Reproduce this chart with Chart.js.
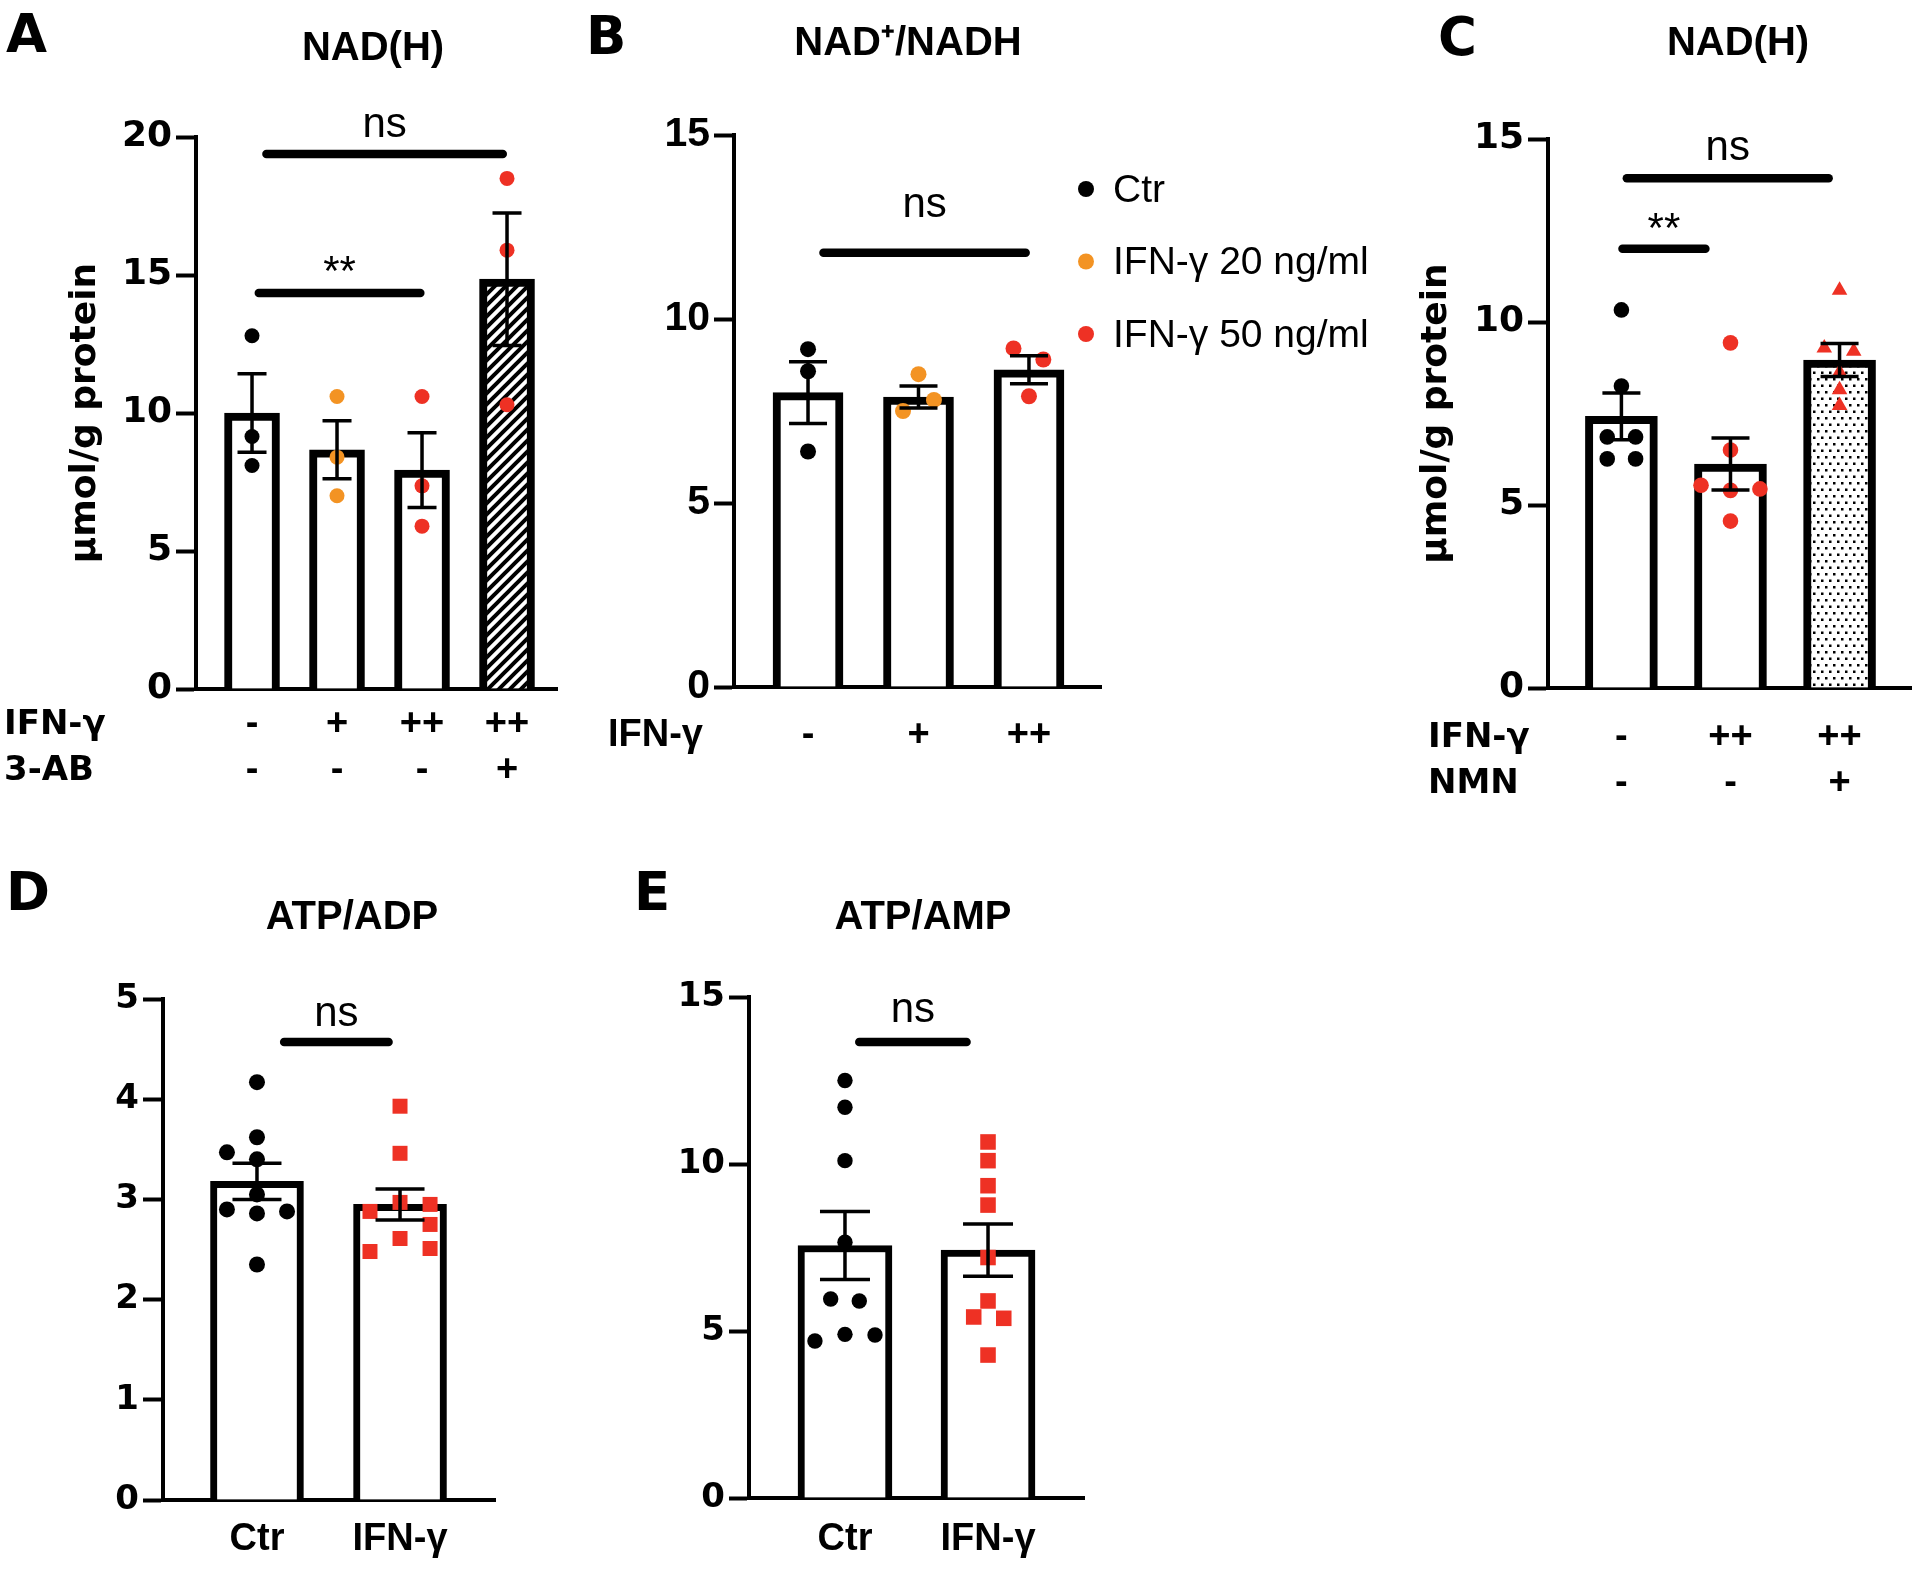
<!DOCTYPE html>
<html>
<head>
<meta charset="utf-8">
<script src="https://cdn.jsdelivr.net/npm/chart.js@4.4.0/dist/chart.umd.min.js"></script>
<style>
  html, body { margin: 0; padding: 0; background: #fff; }
  body { width: 1920px; height: 1571px; position: relative; overflow: hidden; }
  canvas { position: absolute; }
</style>
</head>
<body>
<canvas id="chartA" width="575" height="800" style="left:0;top:0"></canvas>
<canvas id="chartB" width="820" height="800" style="left:580px;top:0"></canvas>
<canvas id="chartC" width="520" height="820" style="left:1400px;top:0"></canvas>
<canvas id="chartD" width="560" height="721" style="left:0;top:850px"></canvas>
<canvas id="chartE" width="560" height="721" style="left:600px;top:850px"></canvas>
<script>
// ===== DATA =====

// A — NAD(H), IFN-γ / 3-AB
const aIfn = ["-", "+", "++", "++"];
const a3ab = ["-", "-", "-", "+"];
const aMean = [10.0, 8.67, 7.93, 14.85];
const aSem = [1.42, 1.05, 1.35, 2.4];
const aPoints = [[12.8, 9.15, 8.1], [10.6, 8.4, 7.0], [10.6, 7.36, 5.9], [18.5, 15.9, 10.3]];
const aJitter = [[0, 0, 0], [0, 0, 0], [0, 0, 0], [0, 0, 0]];
const aBracketFrom = [0.17, 0.08];
const aBracketTo = [2.95, 1.98];
const aBracketY = [19.38, 14.35];
const aBracketText = ["ns", "**"];

// B — NAD+/NADH
const bIfn = ["-", "+", "++"];
const bMean = [8.0, 7.88, 8.62];
const bSem = [0.84, 0.3, 0.38];
const bPoints = [[9.18, 8.58, 6.4], [8.5, 7.8, 7.5], [9.2, 8.9, 7.9]];
const bJitter = [[0, 0, 0], [0, 0.14, -0.14], [-0.14, 0.13, 0]];
const bBracketFrom = [0.14];
const bBracketTo = [1.97];
const bBracketY = [11.8];
const bBracketText = ["ns"];
const bLegend = ["Ctr", "IFN-γ 20 ng/ml", "IFN-γ 50 ng/ml"];

// C — NAD(H), IFN-γ / NMN
const cIfn = ["-", "++", "++"];
const cNmn = ["-", "-", "+"];
const cMean = [7.42, 6.12, 8.96];
const cSem = [0.64, 0.71, 0.45];
const cPoints = [
  [10.33, 8.25, 6.86, 6.86, 6.26, 6.26],
  [9.43, 6.5, 5.54, 5.4, 5.44, 4.56],
  [10.87, 9.29, 9.2, 8.63, 8.15, 7.72]
];
const cJitter = [
  [0, 0, -0.13, 0.13, -0.13, 0.13],
  [0, 0, -0.27, 0, 0.27, 0],
  [0, -0.14, 0.13, 0, 0, 0]
];
const cBracketFrom = [0.05, 0.01];
const cBracketTo = [1.9, 0.77];
const cBracketY = [13.93, 12.0];
const cBracketText = ["ns", "**"];

// D — ATP/ADP
const dGroups = ["Ctr", "IFN-γ"];
const dMean = [3.18, 2.95];
const dSem = [0.18, 0.155];
const dPoints = [
  [4.17, 3.62, 3.47, 3.4, 3.05, 2.9, 2.86, 2.88, 2.35],
  [3.93, 3.46, 2.97, 2.95, 2.88, 2.75, 2.61, 2.51, 2.48]
];
const dJitter = [
  [0, 0, -0.21, 0, 0, -0.21, 0, 0.21, 0],
  [0, 0, 0, 0.21, -0.21, 0.21, 0, 0.21, -0.21]
];
const dBracketFrom = [0.19];
const dBracketTo = [0.92];
const dBracketY = [4.57];
const dBracketText = ["ns"];

// E — ATP/AMP
const eGroups = ["Ctr", "IFN-γ"];
const eMean = [7.56, 7.42];
const eSem = [1.02, 0.78];
const ePoints = [
  [12.5, 11.7, 10.1, 7.66, 5.96, 5.9, 4.9, 4.88, 4.7],
  [10.66, 10.1, 9.35, 8.77, 7.2, 5.9, 5.42, 5.38, 4.28]
];
const eJitter = [
  [0, 0, 0, 0, -0.1, 0.1, 0, 0.21, -0.21],
  [0, 0, 0, 0, 0, 0, -0.1, 0.11, 0]
];
const eBracketFrom = [0.1];
const eBracketTo = [0.85];
const eBracketY = [13.65];
const eBracketText = ["ns"];

// ===== STYLE =====

const BLACK = "#000000";
const ORANGE = "#f39323";
const RED = "#ee3124";
const LIB = "'Liberation Sans', Arial, sans-serif";
const DJV = "'DejaVu Sans', sans-serif";

Chart.defaults.color = BLACK;
Chart.defaults.animation = false;

function hatchPattern(ctx) {
  const c = document.createElement("canvas");
  c.width = 11; c.height = 11;
  const g = c.getContext("2d");
  g.fillStyle = "#fff";
  g.fillRect(0, 0, 11, 11);
  g.strokeStyle = BLACK;
  g.lineWidth = 4;
  g.beginPath();
  g.moveTo(-3, 14); g.lineTo(14, -3);
  g.moveTo(-8.5, 8.5); g.lineTo(8.5, -8.5);
  g.moveTo(2.5, 19.5); g.lineTo(19.5, 2.5);
  g.stroke();
  return ctx.createPattern(c, "repeat");
}

function dotPattern(ctx) {
  const c = document.createElement("canvas");
  c.width = 8; c.height = 13;
  const g = c.getContext("2d");
  g.fillStyle = "#fff";
  g.fillRect(0, 0, 8, 13);
  g.fillStyle = BLACK;
  g.fillRect(1, 1, 2.5, 2.5);
  g.fillRect(5, 7.5, 2.5, 2.5);
  return ctx.createPattern(c, "repeat");
}

//
// ===== DECORATION PLUGIN (error bars, brackets, titles, row headers, legend) =====
//

function decor(cfg) {
  return {
    id: "decor",
    afterDatasetsDraw(chart) {
      const { ctx, scales: { x, y } } = chart;
      ctx.save();
      ctx.strokeStyle = BLACK;
      ctx.lineWidth = 3.5;
      cfg.mean.forEach((m, i) => {
        const px = x.getPixelForValue(i);
        const top = y.getPixelForValue(m + cfg.sem[i]);
        const bot = y.getPixelForValue(m - cfg.sem[i]);
        ctx.beginPath();
        ctx.moveTo(px, top); ctx.lineTo(px, bot);
        ctx.moveTo(px - cfg.cap, top); ctx.lineTo(px + cfg.cap, top);
        ctx.moveTo(px - cfg.cap, bot); ctx.lineTo(px + cfg.cap, bot);
        ctx.stroke();
      });

      ctx.lineCap = "round";
      ctx.lineWidth = 8.5;
      ctx.fillStyle = BLACK;
      ctx.textAlign = "center";
      ctx.textBaseline = "alphabetic";
      cfg.bFrom.forEach((f, k) => {
        const x1 = x.getPixelForValue(f);
        const x2 = x.getPixelForValue(cfg.bTo[k]);
        const py = y.getPixelForValue(cfg.bY[k]);
        ctx.beginPath();
        ctx.moveTo(x1, py); ctx.lineTo(x2, py);
        ctx.stroke();
        ctx.font = "42px " + LIB;
        ctx.fillText(cfg.bText[k], (x1 + x2) / 2, py - cfg.gap[k]);
      });
      ctx.restore();
    },
    afterDraw(chart) {
      const { ctx, scales: { x } } = chart;
      ctx.save();
      ctx.fillStyle = BLACK;
      ctx.textBaseline = "alphabetic";
      ctx.textAlign = "left";
      ctx.font = "bold 53px " + DJV;
      ctx.fillText(cfg.letter, cfg.letterX, cfg.letterY);
      ctx.textAlign = "center";
      ctx.font = "bold 40px " + LIB;
      ctx.fillText(cfg.title, cfg.titleX, cfg.titleY);

      if (cfg.rows) {
        ctx.textAlign = "left";
        ctx.textBaseline = "middle";
        ctx.font = cfg.rowFont;
        cfg.rows.forEach((t, i) => {
          ctx.fillText(t, cfg.rowX, x.top + cfg.tickPad + cfg.lineH * (i + 0.5));
        });
      }

      if (cfg.legend) {
        const L = cfg.legend;
        ctx.textAlign = "left";
        ctx.textBaseline = "middle";
        ctx.font = "39px " + LIB;
        L.labels.forEach((t, i) => {
          const ly = L.y + i * L.step;
          ctx.fillStyle = L.colors[i];
          ctx.beginPath();
          ctx.arc(L.x, ly, 8, 0, Math.PI * 2);
          ctx.fill();
          ctx.fillStyle = BLACK;
          ctx.fillText(t, L.x + 27, ly + 2);
        });
      }
      ctx.restore();
    }
  };
}

//
// ===== SCALES AND DATASETS =====
//

function xScale(min, max, labels, pad, height) {
  return {
    type: "linear",
    min, max,
    offset: false,
    afterBuildTicks: (s) => { s.ticks = labels.map((_, i) => ({ value: i })); },
    afterFit: (s) => { s.height = height; },
    ticks: {
      autoSkip: false,
      maxRotation: 0,
      padding: pad,
      color: BLACK,
      font: { family: LIB, size: 38, weight: "bold", lineHeight: 46 / 38 },
      callback: (v) => labels[v]
    },
    grid: { display: true, drawOnChartArea: false, drawTicks: false, color: BLACK },
    border: { display: true, width: 4, color: BLACK }
  };
}

function yScale(max, step, width, font, titlePad) {
  const s = {
    min: 0, max,
    afterFit: (sc) => { sc.width = width; },
    ticks: { stepSize: step, padding: 4, color: BLACK, font },
    grid: { display: true, drawOnChartArea: false, tickLength: 20, tickWidth: 4, color: BLACK },
    border: { display: true, width: 4, color: BLACK },
    title: { display: false }
  };
  if (titlePad !== undefined) {
    s.title = {
      display: true,
      text: "µmol/g protein",
      color: BLACK,
      padding: { top: titlePad, bottom: 0 },
      font: { family: DJV, size: 36, weight: "bold", lineHeight: 1.2 }
    };
  }
  return s;
}

function barSet(means, fills, thickness, border) {
  return {
    type: "bar",
    data: means.map((v, i) => ({ x: i, y: v })),
    backgroundColor: fills,
    borderColor: BLACK,
    borderWidth: border,
    borderSkipped: "start",
    barThickness: thickness,
    order: 2
  };
}

function pointSets(points, jitter, colors, styles, radii) {
  return points.map((vals, i) => ({
    type: "scatter",
    data: vals.map((v, k) => ({ x: i + jitter[i][k], y: v })),
    backgroundColor: colors[i],
    borderWidth: 0,
    pointStyle: styles[i],
    pointRadius: radii[i],
    order: 1
  }));
}

function makeChart(id, datasets, scales, padding, plugin) {
  return new Chart(document.getElementById(id), {
    type: "bar",
    data: { datasets },
    options: {
      responsive: false,
      devicePixelRatio: 1,
      animation: false,
      events: [],
      layout: { padding },
      plugins: { legend: { display: false }, tooltip: { enabled: false } },
      scales
    },
    plugins: [plugin]
  });
}

//
// ===== PANEL A =====
//

const ctxA = document.getElementById("chartA").getContext("2d");
makeChart("chartA",
  [
    barSet(aMean, ["#fff", "#fff", "#fff", hatchPattern(ctxA)], 55, 8),
    ...pointSets(aPoints, aJitter, [BLACK, ORANGE, RED, RED],
      ["circle", "circle", "circle", "circle"], [7.5, 7.5, 7.5, 7.5])
  ],
  {
    x: xScale(-0.659, 3.588, aIfn.map((v, i) => [v, a3ab[i]]), 13, 111),
    y: yScale(20, 5, 196, { family: DJV, size: 36, weight: "bold" }, 64.4)
  },
  { left: 0, top: 137, right: 18, bottom: 0 },
  decor({
    mean: aMean, sem: aSem, cap: 14.5,
    bFrom: aBracketFrom, bTo: aBracketTo, bY: aBracketY, bText: aBracketText, gap: [17, 8],
    letter: "A", letterX: 6, letterY: 52,
    title: "NAD(H)", titleX: 373, titleY: 60,
    rows: ["IFN-γ", "3-AB"], rowX: 4, rowFont: "bold 34px " + DJV, tickPad: 13, lineH: 46
  })
);

//
// ===== PANEL B =====
//

makeChart("chartB",
  [
    barSet(bMean, ["#fff", "#fff", "#fff"], 70, 8),
    ...pointSets(bPoints, bJitter, [BLACK, ORANGE, RED],
      ["circle", "circle", "circle"], [8, 8, 8])
  ],
  {
    x: xScale(-0.67, 2.652, bIfn, 26, 113),
    y: yScale(15, 5, 154, { family: LIB, size: 41, weight: "bold" })
  },
  { left: 0, top: 135, right: 299, bottom: 0 },
  decor({
    mean: bMean, sem: bSem, cap: 19,
    bFrom: bBracketFrom, bTo: bBracketTo, bY: bBracketY, bText: bBracketText, gap: [36],
    letter: "B", letterX: 6, letterY: 54,
    title: "NAD⁺/NADH", titleX: 328, titleY: 55,
    rows: ["IFN-γ"], rowX: 28, rowFont: "bold 38px " + LIB, tickPad: 26, lineH: 46,
    legend: { labels: bLegend, colors: [BLACK, ORANGE, RED], x: 506, y: 189, step: 72.5 }
  })
);

//
// ===== PANEL C =====
//

const ctxC = document.getElementById("chartC").getContext("2d");
makeChart("chartC",
  [
    barSet(cMean, ["#fff", "#fff", dotPattern(ctxC)], 72, 8),
    ...pointSets(cPoints, cJitter, [BLACK, RED, RED],
      ["circle", "circle", "triangle"], [7.8, 7.8, 9])
  ],
  {
    x: xScale(-0.673, 2.655, cIfn.map((v, i) => [v, cNmn[i]]), 27, 132),
    y: yScale(15, 5, 148, { family: DJV, size: 36, weight: "bold" }, 15.4)
  },
  { left: 0, top: 139, right: 6, bottom: 0 },
  decor({
    mean: cMean, sem: cSem, cap: 19,
    bFrom: cBracketFrom, bTo: cBracketTo, bY: cBracketY, bText: cBracketText, gap: [18, 7],
    letter: "C", letterX: 38, letterY: 55,
    title: "NAD(H)", titleX: 338, titleY: 55,
    rows: ["IFN-γ", "NMN"], rowX: 28, rowFont: "bold 34px " + DJV, tickPad: 27, lineH: 46
  })
);

//
// ===== PANEL D =====
//

makeChart("chartD",
  [
    barSet(dMean, ["#fff", "#fff"], 93, 7),
    ...pointSets(dPoints, dJitter, [BLACK, RED], ["circle", "rect"], [8, 10.6])
  ],
  {
    x: xScale(-0.657, 1.664, dGroups, 17, 71),
    y: yScale(5, 1, 163, { family: DJV, size: 34, weight: "bold" })
  },
  { left: 0, top: 149, right: 65, bottom: 0 },
  decor({
    mean: dMean, sem: dSem, cap: 24.5,
    bFrom: dBracketFrom, bTo: dBracketTo, bY: dBracketY, bText: dBracketText, gap: [16],
    letter: "D", letterX: 6, letterY: 60,
    title: "ATP/ADP", titleX: 352, titleY: 79
  })
);

//
// ===== PANEL E =====
//

makeChart("chartE",
  [
    barSet(eMean, ["#fff", "#fff"], 94, 7),
    ...pointSets(ePoints, eJitter, [BLACK, RED], ["circle", "rect"], [7.7, 11])
  ],
  {
    x: xScale(-0.671, 1.671, eGroups, 19, 73),
    y: yScale(15, 5, 149, { family: DJV, size: 34, weight: "bold" })
  },
  { left: 0, top: 147, right: 76, bottom: 0 },
  decor({
    mean: eMean, sem: eSem, cap: 25,
    bFrom: eBracketFrom, bTo: eBracketTo, bY: eBracketY, bText: eBracketText, gap: [20],
    letter: "E", letterX: 34, letterY: 60,
    title: "ATP/AMP", titleX: 323, titleY: 79
  })
);
</script>
</body>
</html>
